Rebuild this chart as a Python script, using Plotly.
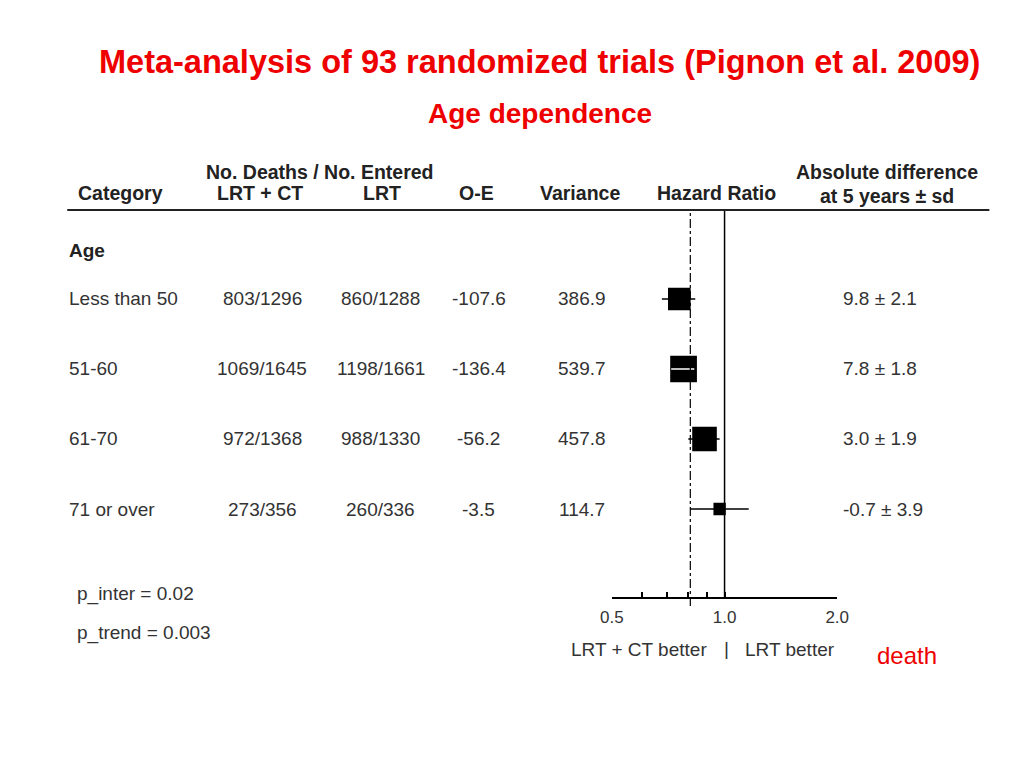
import plotly.graph_objects as go

# page body keeps its 8px margin, so the figure is sized to fit inside it
OFF = 8
W, H = 1024 - 2 * OFF, 768 - 2 * OFF
# the captured page comes out slightly squeezed horizontally; undo that
SX, SX0 = 0.975, 14

# --- data ------------------------------------------------------------------
categories = ["Less than 50", "51-60", "61-70", "71 or over"]
deaths_lrt_ct = ["803/1296", "1069/1645", "972/1368", "273/356"]
deaths_lrt = ["860/1288", "1198/1661", "988/1330", "260/336"]
o_minus_e = [-107.6, -136.4, -56.2, -3.5]
variance = [386.9, 539.7, 457.8, 114.7]
hazard_ratio = [0.757, 0.777, 0.884, 0.970]
ci_low = [0.68, 0.72, 0.80, 0.81]
ci_high = [0.835, 0.83, 0.97, 1.16]
abs_diff = ["9.8 ± 2.1", "7.8 ± 1.8", "3.0 ± 1.9", "-0.7 ± 3.9"]
ci_inside_box = [False, True, False, False]
overall_hr = 0.81
axis_ticks = [0.5, 0.6, 0.7, 0.8, 0.9, 1.0, 2.0]
axis_ticktext = ["0.5", "", "", "", "", "1.0", "2.0"]
p_values = ["p_inter = 0.02", "p_trend = 0.003"]

rows = list(range(1, len(categories) + 1))

TXT = "#333333"
HEAD = "#222222"
RED = "#ee0000"
FONT = "Liberation Sans, Arial, sans-serif"


def px(x):
    # screen pixel -> paper fraction
    return ((x - SX0) / SX - OFF) / W


def py(y):
    return 1 - (y - OFF) / H


fig = go.Figure()

fig.add_trace(go.Scatter(
    x=hazard_ratio, y=rows, mode="markers",
    marker=dict(symbol="square", size=[1.15 * v ** 0.5 for v in variance],
                color="#000000", opacity=1, line=dict(width=0)),
    error_x=dict(type="data", symmetric=False,
                 array=[h - m for h, m in zip(ci_high, hazard_ratio)],
                 arrayminus=[m - l for m, l in zip(hazard_ratio, ci_low)],
                 color="black", thickness=1.3, width=0),
    showlegend=False, hoverinfo="skip",
))

# CI drawn white where it sits inside the box
for r, lo, hi, inside in zip(rows, ci_low, ci_high, ci_inside_box):
    if inside:
        fig.add_trace(go.Scatter(x=[lo, hi], y=[r, r], mode="lines",
                                 line=dict(color="white", width=1.3),
                                 showlegend=False, hoverinfo="skip"))

# reference lines
fig.add_shape(type="line", xref="x", yref="paper", x0=1.0, x1=1.0,
              y0=py(597), y1=py(210), line=dict(color="black", width=1.5))
fig.add_shape(type="line", xref="x", yref="paper", x0=overall_hr, x1=overall_hr,
              y0=py(606), y1=py(210), line=dict(color="black", width=1.2, dash="dashdot"))
# header rule
fig.add_shape(type="line", xref="paper", yref="paper", x0=px(69), x1=px(990),
              y0=py(210), y1=py(210), line=dict(color="#222222", width=2))

ann = []


def txt(x, y, s, size=19, color=TXT, anchor="center", bold=False, yref="paper"):
    ann.append(dict(x=x, y=y, xref="paper", yref=yref, text=f"<b>{s}</b>" if bold else s,
                    showarrow=False, xanchor=anchor, yanchor="middle",
                    font=dict(size=size, color=color, family=FONT)))


# title
txt(px(541), py(62), "Meta-analysis of 93 randomized trials (Pignon et al. 2009)",
    size=32.5, color=RED, bold=True)
txt(px(541), py(113), "Age dependence", size=28, color=RED, bold=True)

# headers
txt(px(122), py(193), "Category", size=19.5, color=HEAD, bold=True)
txt(px(321), py(172), "No. Deaths / No. Entered", size=19.5, color=HEAD, bold=True)
txt(px(262), py(193), "LRT + CT", size=19.5, color=HEAD, bold=True)
txt(px(383), py(193), "LRT", size=19.5, color=HEAD, bold=True)
txt(px(478), py(193), "O-E", size=19.5, color=HEAD, bold=True)
txt(px(581), py(193), "Variance", size=19.5, color=HEAD, bold=True)
txt(px(717), py(193), "Hazard Ratio", size=19.5, color=HEAD, bold=True)
txt(px(888), py(172), "Absolute difference", size=19.5, color=HEAD, bold=True)
txt(px(888), py(196), "at 5 years ± sd", size=19.5, color=HEAD, bold=True)

txt(px(69), 0.31, "Age", color=HEAD, anchor="left", bold=True, yref="y")

for r, c, a, b, oe, v, d in zip(rows, categories, deaths_lrt_ct, deaths_lrt,
                                o_minus_e, variance, abs_diff):
    txt(px(69), r, c, anchor="left", yref="y")
    txt(px(264), r, a, yref="y")
    txt(px(382), r, b, yref="y")
    txt(px(480), r, f"{oe:.1f}", yref="y")
    txt(px(583), r, f"{v:.1f}", yref="y")
    txt(px(842), r, d, anchor="left", yref="y")

txt(px(77), py(594), p_values[0], anchor="left")
txt(px(77), py(633), p_values[1], anchor="left")
txt(px(640), py(649), "LRT + CT better")
txt(px(727), py(648), "|")
txt(px(791), py(649), "LRT better")
txt(px(908), py(655), "death", size=24, color=RED)

fig.update_layout(
    width=W, height=H, autosize=False,
    margin=dict(l=0, r=0, t=0, b=0),
    paper_bgcolor="white", plot_bgcolor="white",
    annotations=ann,
    xaxis=dict(type="log", range=[-0.30103, 0.30103], domain=[px(613), px(838)],
               tickvals=axis_ticks, ticktext=axis_ticktext,
               ticks="inside", ticklen=5, tickcolor="black", tickwidth=1.5,
               ticklabelstandoff=4,
               showline=True, linecolor="black", linewidth=1.5, showgrid=False,
               zeroline=False, tickfont=dict(size=17, color=TXT, family=FONT)),
    yaxis=dict(range=[5.257, -0.271], domain=[py(597), py(210)], visible=False),
)

fig.write_html("out.html")
